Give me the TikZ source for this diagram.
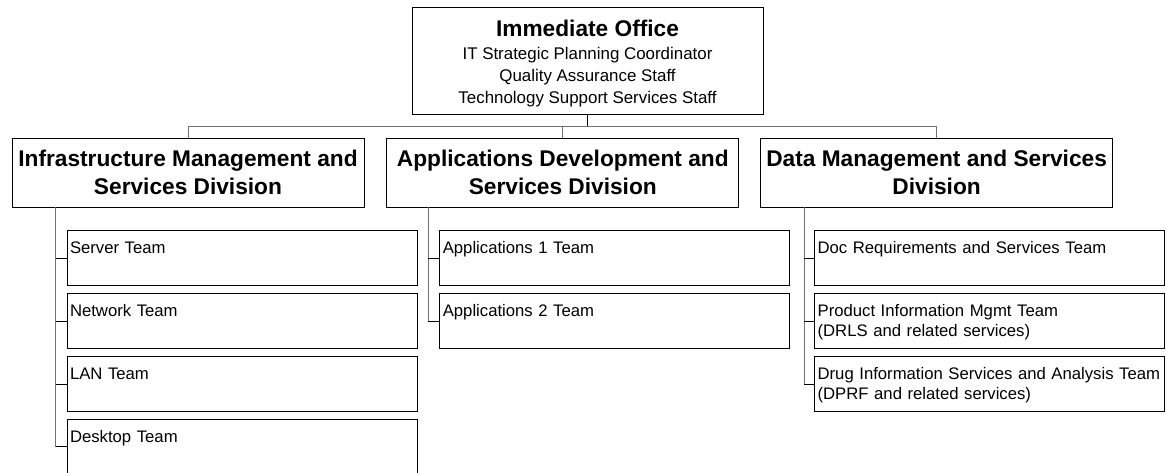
\documentclass[tikz,border=0pt]{standalone}
\usepackage{fontspec}
\setmainfont{Liberation Sans}
\usetikzlibrary{positioning}

\tikzset{
  orgbox/.style={draw, line width=0.8pt, inner sep=0pt},
  officebox/.style={orgbox, minimum width=351pt, minimum height=107pt, align=center,
    font=\fontsize{16.9}{22.3}\selectfont},
  divbox/.style={orgbox, minimum width=352pt, minimum height=69pt, align=center,
    font=\fontsize{22.7}{28}\selectfont\bfseries},
  teambox/.style={orgbox, text width=344pt, inner xsep=3pt, inner ysep=4pt,
    text height=19pt, text depth=28pt, align=left, font=\fontsize{16.7}{20}\selectfont},
  orgline/.style={draw=black!55, line width=1pt},
  stubline/.style={draw=black, line width=0.8pt},
}

\begin{document}
\begin{tikzpicture}[x=1pt, y=-1pt]
    \useasboundingbox (0,0) rectangle (1166,472);

    % head office
    \node[officebox] (Immediate Office) at (587.5,60.5)
        {{\fontsize{22.7}{23}\selectfont\bfseries\rule{0pt}{23pt}Immediate Office}\\
         IT Strategic Planning Coordinator\\
         Quality Assurance Staff\\
         Technology Support Services Staff};

    % divisions
    \node[divbox]                        (Infra Div) at (188,172.5) {Infrastructure Management and\\Services Division};
    \node[divbox, right=22pt of Infra Div] (Apps Div)  {Applications Development and\\Services Division};
    \node[divbox, right=21pt of Apps Div]  (Data Div)  {Data Management and Services\\Division};

    % teams
    \node[teambox, below right=23pt and 55pt of Infra Div.south west] (Server Team)  {Server Team};
    \node[teambox, below=7pt of Server Team]                           (Network Team) {Network Team};
    \node[teambox, below=7pt of Network Team]                          (LAN Team)     {LAN Team};
    \node[teambox, below=7pt of LAN Team]                              (Desktop Team) {Desktop Team};

    \node[teambox, below right=23pt and 53pt of Apps Div.south west]  (Apps 1 Team)  {Applications 1 Team};
    \node[teambox, below=7pt of Apps 1 Team]                           (Apps 2 Team)  {Applications 2 Team};

    \node[teambox, below right=23pt and 54pt of Data Div.south west]  (Doc Team)     {Doc Requirements and Services Team};
    \node[teambox, below=7pt of Doc Team]                              (Product Team) {Product Information Mgmt Team\\(DRLS and related services)};
    \node[teambox, below=7pt of Product Team]                          (Drug Team)    {Drug Information Services and Analysis Team\\(DPRF and related services)};

    % top bar
    \coordinate (Bar Level) at (0,126);
    \draw[stubline] (Immediate Office.south) -- (Immediate Office.south |- Bar Level);
    \draw[orgline] (Infra Div.north) |- (Bar Level -| Data Div.north) -- (Data Div.north);
    \draw[orgline] (Apps Div.north) -- (Apps Div.north |- Bar Level);

    % spines down each division
    \coordinate[xshift=-11pt] (Infra Spine) at (Server Team.west |- Infra Div.south);
    \coordinate[xshift=-11pt] (Apps Spine)  at (Apps 1 Team.west |- Apps Div.south);
    \coordinate[xshift=-10pt] (Data Spine)  at (Doc Team.west |- Data Div.south);

    \draw[orgline] (Infra Spine) -- (Infra Spine |- Desktop Team.west);
    \foreach \t in {Server Team, Network Team, LAN Team, Desktop Team}
        \draw[stubline] (\t.west) -- (\t.west -| Infra Spine);

    \draw[orgline] (Apps Spine) -- (Apps Spine |- Apps 2 Team.west);
    \foreach \t in {Apps 1 Team, Apps 2 Team}
        \draw[stubline] (\t.west) -- (\t.west -| Apps Spine);

    \draw[orgline] (Data Spine) -- (Data Spine |- Drug Team.west);
    \foreach \t in {Doc Team, Product Team, Drug Team}
        \draw[stubline] (\t.west) -- (\t.west -| Data Spine);
\end{tikzpicture}
\end{document}
